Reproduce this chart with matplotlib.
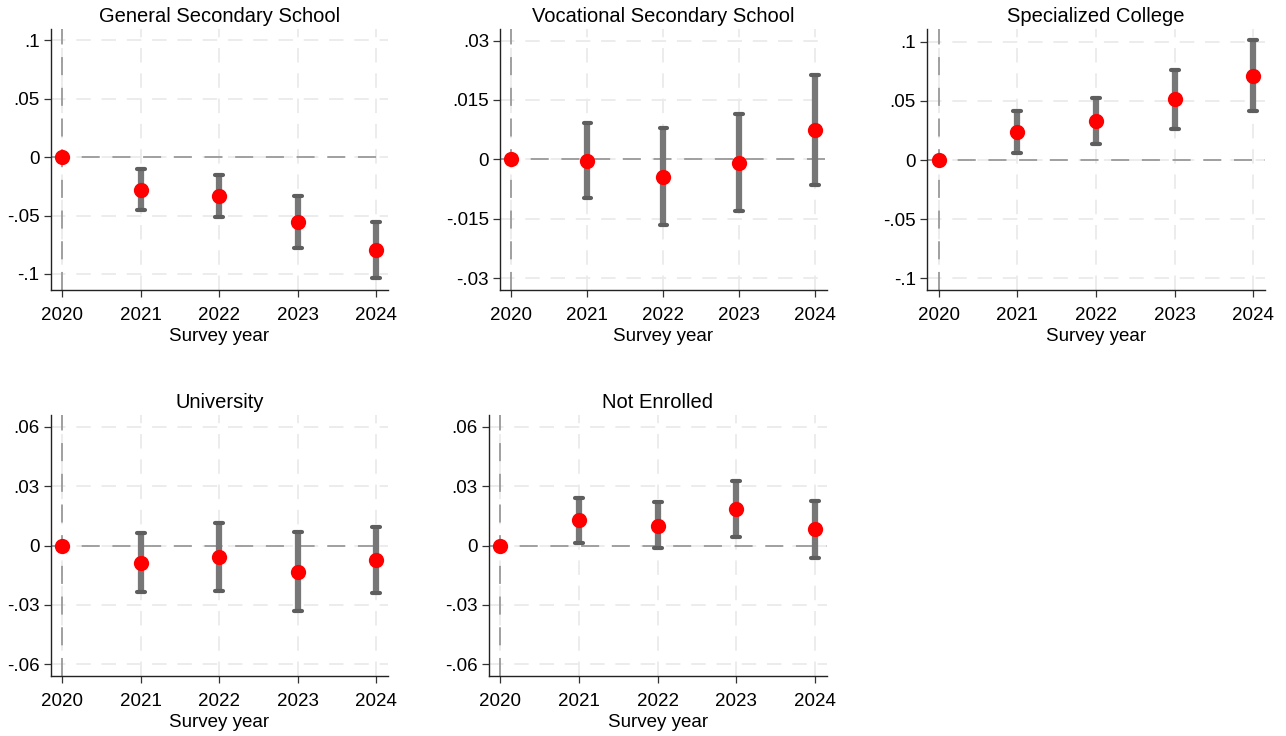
import numpy as np
import matplotlib.pyplot as plt

plt.rcParams['font.family'] = ['Liberation Sans', 'DejaVu Sans']

years = [2020, 2021, 2022, 2023, 2024]

# Point estimates and 95% CI bounds by outcome
general_est = [0, -0.028, -0.0333, -0.0553, -0.0798]
general_lo = [0, -0.0456, -0.051, -0.0775, -0.1037]
general_hi = [0, -0.0103, -0.0151, -0.0331, -0.0558]

vocational_est = [0, -0.0004, -0.0045, -0.0009, 0.0075]
vocational_lo = [0, -0.0097, -0.0167, -0.0131, -0.0065]
vocational_hi = [0, 0.0091, 0.0078, 0.0114, 0.0214]

college_est = [0, 0.0239, 0.033, 0.0513, 0.0713]
college_lo = [0, 0.0062, 0.0138, 0.0262, 0.0417]
college_hi = [0, 0.0417, 0.0524, 0.0763, 0.1012]

univ_est = [0, -0.0088, -0.0059, -0.0135, -0.0074]
univ_lo = [0, -0.0236, -0.0229, -0.0333, -0.0241]
univ_hi = [0, 0.0062, 0.0116, 0.0069, 0.0096]

notenr_est = [0, 0.0128, 0.0101, 0.0183, 0.0081]
notenr_lo = [0, 0.0015, -0.0014, 0.0044, -0.0063]
notenr_hi = [0, 0.0242, 0.0219, 0.0326, 0.0224]

panels = [
    ("General Secondary School", general_est, general_lo, general_hi,
     [-0.1, -0.05, 0, 0.05, 0.1], ["-.1", "-.05", "0", ".05", ".1"], (-0.1137, 0.1094)),
    ("Vocational Secondary School", vocational_est, vocational_lo, vocational_hi,
     [-0.03, -0.015, 0, 0.015, 0.03], ["-.03", "-.015", "0", ".015", ".03"], (-0.033, 0.0328)),
    ("Specialized College", college_est, college_lo, college_hi,
     [-0.1, -0.05, 0, 0.05, 0.1], ["-.1", "-.05", "0", ".05", ".1"], (-0.1099, 0.1105)),
    ("University", univ_est, univ_lo, univ_hi,
     [-0.06, -0.03, 0, 0.03, 0.06], ["-.06", "-.03", "0", ".03", ".06"], (-0.0659, 0.0659)),
    ("Not Enrolled", notenr_est, notenr_lo, notenr_hi,
     [-0.06, -0.03, 0, 0.03, 0.06], ["-.06", "-.03", "0", ".03", ".06"], (-0.0659, 0.0659)),
]

# axes boxes in figure fractions
boxes = [
    [0.0394, 0.606, 0.2623, 0.354],
    [0.3888, 0.606, 0.2540, 0.354],
    [0.7208, 0.606, 0.2629, 0.354],
    [0.0394, 0.0815, 0.2623, 0.3546],
    [0.3800, 0.0815, 0.2628, 0.3546],
]

fig = plt.figure(figsize=(12.86, 7.36), dpi=100)

for (title, est, lo, hi, yt, ytl, ylim), box in zip(panels, boxes):
    ax = fig.add_axes(box)
    est = np.array(est)
    lo = np.array(lo)
    hi = np.array(hi)
    x = np.array(years)

    # light dashed grid
    for y in yt:
        ax.axhline(y, color='#ebebeb', lw=1.3, dashes=(8, 6), zorder=0)
    for xv in years:
        ax.axvline(xv, color='#ebebeb', lw=1.3, dashes=(8, 6), zorder=0)

    # reference lines
    ax.axhline(0, color='#999999', lw=1.3, dashes=(10, 7), zorder=1)
    ax.axvline(2020, color='#999999', lw=1.3, dashes=(10, 7), zorder=1)

    # confidence intervals (base year has none)
    ax.vlines(x[1:], lo[1:], hi[1:], color='#777777', lw=4.5, zorder=2)
    ax.hlines(lo[1:], x[1:] - 0.05, x[1:] + 0.05,
              color='#5e5e5e', lw=3, capstyle='round', zorder=3)
    ax.hlines(hi[1:], x[1:] - 0.05, x[1:] + 0.05,
              color='#5e5e5e', lw=3, capstyle='round', zorder=3)

    # point estimates
    ax.plot(x, est, 'o', color='#ff0000', ms=11, mec='none', zorder=4)

    ax.set_xlim(2019.85, 2024.15)
    ax.set_ylim(*ylim)
    ax.set_xticks(years)
    ax.set_xticklabels([str(y) for y in years])
    ax.set_yticks(yt)
    ax.set_yticklabels(ytl)
    ax.tick_params(labelsize=13.5, length=5, width=0.9, color='#333333')
    ax.tick_params(axis='x', pad=7)
    ax.tick_params(axis='y', pad=3)
    for s in ['top', 'right']:
        ax.spines[s].set_visible(False)
    for s in ['left', 'bottom']:
        ax.spines[s].set_linewidth(1.0)
        ax.spines[s].set_color('#222222')
    ax.set_xlabel("Survey year", fontsize=13.5, labelpad=3)
    ax.set_title(title, fontsize=14.5, pad=5)

fig.savefig("out.png", dpi=100, facecolor='white')
